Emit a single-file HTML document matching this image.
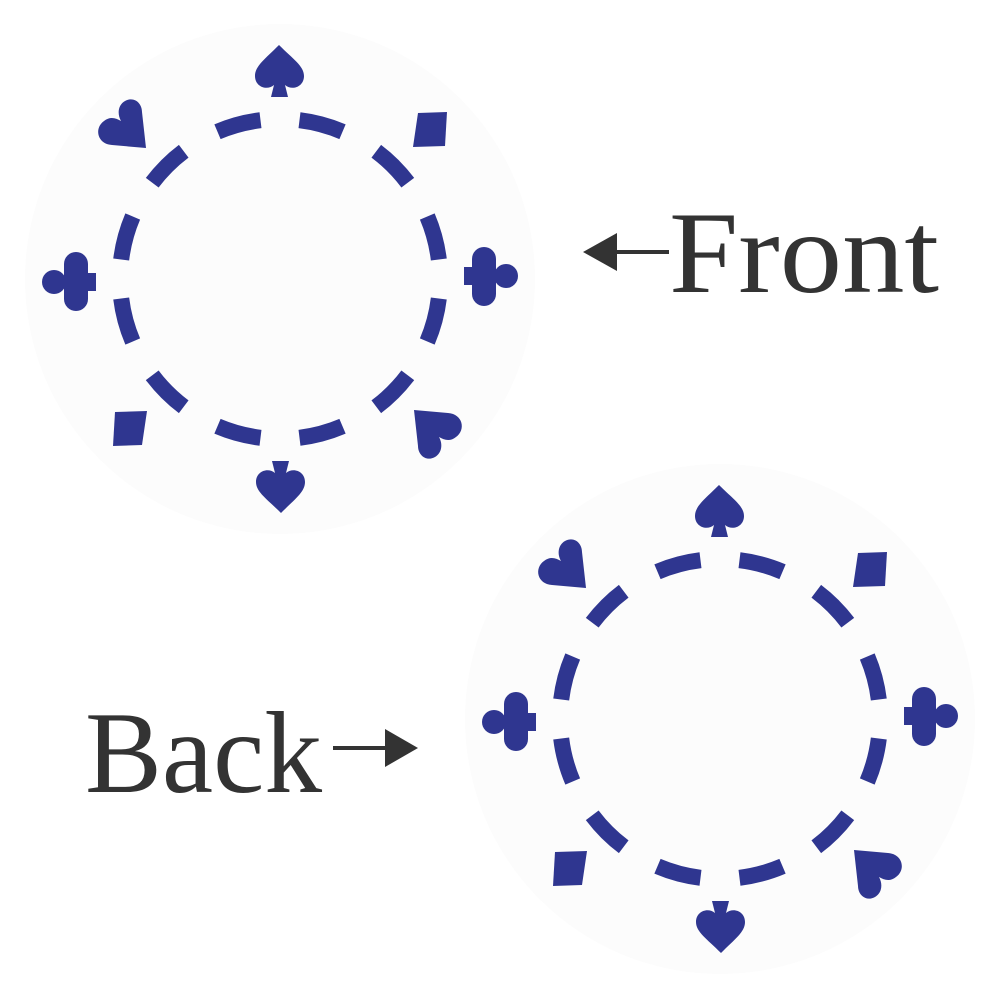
<!DOCTYPE html>
<html><head><meta charset="utf-8"><style>html,body{margin:0;padding:0;background:#fff}svg{display:block}
.t{font-family:"Liberation Serif","DejaVu Serif",serif;font-size:117px}</style></head>
<body>
<svg width="1000" height="1000" viewBox="0 0 1000 1000" xmlns="http://www.w3.org/2000/svg">
<defs>
<path id="d0" d="M438.44,256.73 A160,160 0 0 1 438.44,301.27"/>
<g id="chip">
  <circle cx="280" cy="279" r="255" fill="#fcfcfc"/>
  <g fill="#2f3690">
    <path id="sp" d="M279,45 C265,59 255,66 255,76 C255,87 267,91 274,85 L271,97 L288,97 L285,85 C292,91 304,87 304,76 C304,66 293,59 279,45 Z"/>
    <use href="#sp" transform="rotate(180 280 279)"/>
    <path id="ht" d="M146,148 L112,145 C97,144 94,128 104,121 C110,116 116,118 121,121 C117,114 118,105 125,101 C134,96 142,103 142,112 Z"/>
    <use href="#ht" transform="rotate(180 280 279)"/>
    <path id="dm" d="M418,113 L447,112 L445,146 L413,147 Z"/>
    <use href="#dm" transform="rotate(180 280 279)"/>
    <g id="cl">
      <circle cx="76" cy="264" r="12"/>
      <circle cx="76" cy="299" r="12"/>
      <circle cx="54" cy="282" r="12"/>
      <rect x="64" y="264" width="24" height="35"/>
      <rect x="86" y="273" width="10" height="18"/>
    </g>
    <use href="#cl" transform="rotate(180 280 279)"/>
  </g>
  <g fill="none" stroke="#2f3690" stroke-width="16">
    <use href="#d0" transform="rotate(15 280 279)"/>
    <use href="#d0" transform="rotate(45 280 279)"/>
    <use href="#d0" transform="rotate(75 280 279)"/>
    <use href="#d0" transform="rotate(105 280 279)"/>
    <use href="#d0" transform="rotate(135 280 279)"/>
    <use href="#d0" transform="rotate(165 280 279)"/>
    <use href="#d0" transform="rotate(195 280 279)"/>
    <use href="#d0" transform="rotate(225 280 279)"/>
    <use href="#d0" transform="rotate(255 280 279)"/>
    <use href="#d0" transform="rotate(285 280 279)"/>
    <use href="#d0" transform="rotate(315 280 279)"/>
    <use href="#d0" transform="rotate(345 280 279)"/>
  </g>
</g>
</defs>
<use href="#chip"/>
<use href="#chip" transform="translate(440 440)"/>
<g fill="#333">
  <text class="t" x="669" y="292" textLength="270" lengthAdjust="spacingAndGlyphs">Front</text>
  <rect x="612" y="250" width="57" height="4"/>
  <path d="M583,252 L617,233 L617,271 Z"/>
  <text class="t" x="85" y="792" textLength="237" lengthAdjust="spacingAndGlyphs">Back</text>
  <rect x="333" y="746" width="57" height="4"/>
  <path d="M418,748 L385,729 L385,767 Z"/>
</g>
</svg>
</body></html>
